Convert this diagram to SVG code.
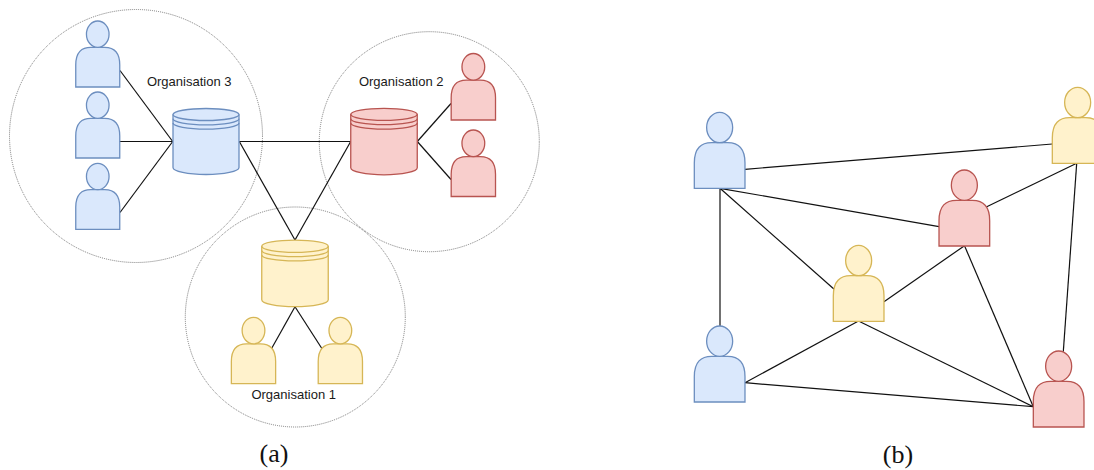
<svg xmlns="http://www.w3.org/2000/svg" xmlns:xlink="http://www.w3.org/1999/xlink" width="1094" height="470" viewBox="0 0 1094 470">
<style>
  .org { fill: none; stroke: #7a7a7a; stroke-width: 1; stroke-dasharray: 1 1; }
  .edge { stroke: #111; stroke-width: 1.2; fill: none; }
  .blue { fill: #dae8fc; stroke: #6c8ebf; }
  .red { fill: #f8cecc; stroke: #b85450; }
  .yellow { fill: #fff2cc; stroke: #d6b656; }
  .lbl { font-family: "Liberation Sans", Arial, sans-serif; font-size: 13px; fill: #1a1a1a; text-anchor: middle; }
  .cap { font-family: "Liberation Serif", "Times New Roman", serif; font-size: 26px; fill: #111; text-anchor: middle; }
  .s { vector-effect: non-scaling-stroke; stroke-width: 1.3; }
</style>
<defs>
  <symbol id="person" viewBox="0 0 44 66" overflow="visible">
    <path class="s" d="M0,66 L0,44 C0,31 6,26.4 15,26.4 L29,26.4 C38,26.4 44,31 44,44 L44,66 Z"/>
    <ellipse class="s" cx="22" cy="13.2" rx="11.3" ry="13.2"/>
  </symbol>
  <symbol id="db" viewBox="0 0 66 66" overflow="visible">
    <path class="s" d="M0,6 A33,6 0 0 1 66,6 L66,59 A33,7 0 0 1 0,59 Z"/>
    <path class="s" fill="none" d="M0,6 A33,6 0 0 0 66,6 M0,10.3 A33,6 0 0 0 66,10.3 M0,14.6 A33,6 0 0 0 66,14.6"/>
  </symbol>
</defs>
<rect width="1094" height="470" fill="#ffffff"/>

<g id="organisations">
  <circle id="org3-boundary" class="org" cx="136" cy="136" r="126.5"/>
  <circle id="org2-boundary" class="org" cx="429.3" cy="141.7" r="110"/>
  <circle id="org1-boundary" class="org" cx="295.3" cy="317" r="110"/>
</g>

<g id="connectors">
  <line class="edge" x1="120" y1="70.5" x2="172.7" y2="141.5"/>
  <line class="edge" x1="118.5" y1="141.5" x2="172.7" y2="141.5"/>
  <line class="edge" x1="120" y1="212.5" x2="172.7" y2="141.5"/>
  <line class="edge" x1="239.3" y1="141.5" x2="350.7" y2="141.5"/>
  <line class="edge" x1="239.3" y1="141.5" x2="295" y2="240"/>
  <line class="edge" x1="350.7" y1="141.5" x2="295" y2="240"/>
  <line class="edge" x1="417.3" y1="141.5" x2="451" y2="103.5"/>
  <line class="edge" x1="417.3" y1="141.5" x2="451" y2="179.5"/>
  <line class="edge" x1="295" y1="306.7" x2="271" y2="349.5"/>
  <line class="edge" x1="295" y1="306.7" x2="322.5" y2="349.5"/>

  <line class="edge" x1="745" y1="169.3" x2="1052.3" y2="144"/>
  <line class="edge" x1="720" y1="188.3" x2="720" y2="326"/>
  <line class="edge" x1="720" y1="188.3" x2="939" y2="226.7"/>
  <line class="edge" x1="720" y1="188.3" x2="835" y2="290"/>
  <line class="edge" x1="1076.7" y1="163.3" x2="985.7" y2="207.3"/>
  <line class="edge" x1="1076.7" y1="163.3" x2="1063.3" y2="351.7"/>
  <line class="edge" x1="964.5" y1="245.7" x2="884" y2="301.7"/>
  <line class="edge" x1="964.5" y1="245.7" x2="1033.3" y2="406.7"/>
  <line class="edge" x1="858.5" y1="321" x2="745" y2="382.7"/>
  <line class="edge" x1="858.5" y1="321" x2="1033.3" y2="406.7"/>
  <line class="edge" x1="745" y1="382.7" x2="1033.3" y2="406.7"/>
</g>

<g id="org3-user1"><use href="#person" class="blue" x="75.5" y="21" width="44.5" height="66"/></g>
<g id="org3-user2"><use href="#person" class="blue" x="75.5" y="92" width="44.5" height="66"/></g>
<g id="org3-user3"><use href="#person" class="blue" x="75.5" y="163.3" width="44.5" height="66"/></g>
<g id="org3-db"><use href="#db" class="blue" x="172.7" y="108.5" width="66.6" height="66"/></g>
<g id="org3-label"><text class="lbl" x="189.2" y="86">Organisation 3</text></g>

<g id="org2-db"><use href="#db" class="red" x="350.7" y="108.3" width="66.6" height="66.5"/></g>
<g id="org2-user1"><use href="#person" class="red" x="451" y="53.5" width="44.7" height="66.5"/></g>
<g id="org2-user2"><use href="#person" class="red" x="451" y="130" width="44.7" height="66.5"/></g>
<g id="org2-label"><text class="lbl" x="401.2" y="85.7">Organisation 2</text></g>

<g id="org1-db"><use href="#db" class="yellow" x="261.7" y="240.2" width="66.6" height="66.5"/></g>
<g id="org1-user1"><use href="#person" class="yellow" x="231" y="317.3" width="45" height="66.4"/></g>
<g id="org1-user2"><use href="#person" class="yellow" x="318" y="317.3" width="44.7" height="66.4"/></g>
<g id="org1-label"><text class="lbl" x="293.7" y="399">Organisation 1</text></g>

<g id="caption-a"><text class="cap" x="274" y="462">(a)</text></g>

<g id="p2p-blue1"><use href="#person" class="blue" x="694.3" y="112.3" width="50.7" height="76"/></g>
<g id="p2p-yellow-top"><use href="#person" class="yellow" x="1052.3" y="87.3" width="50.7" height="76"/></g>
<g id="p2p-red-mid"><use href="#person" class="red" x="939" y="170" width="50.7" height="76"/></g>
<g id="p2p-yellow-mid"><use href="#person" class="yellow" x="833.3" y="245.3" width="50.7" height="76"/></g>
<g id="p2p-blue2"><use href="#person" class="blue" x="694.3" y="326" width="50.7" height="76"/></g>
<g id="p2p-red-bottom"><use href="#person" class="red" x="1033.3" y="351" width="50.7" height="76"/></g>

<g id="caption-b"><text class="cap" x="898" y="463">(b)</text></g>
</svg>
